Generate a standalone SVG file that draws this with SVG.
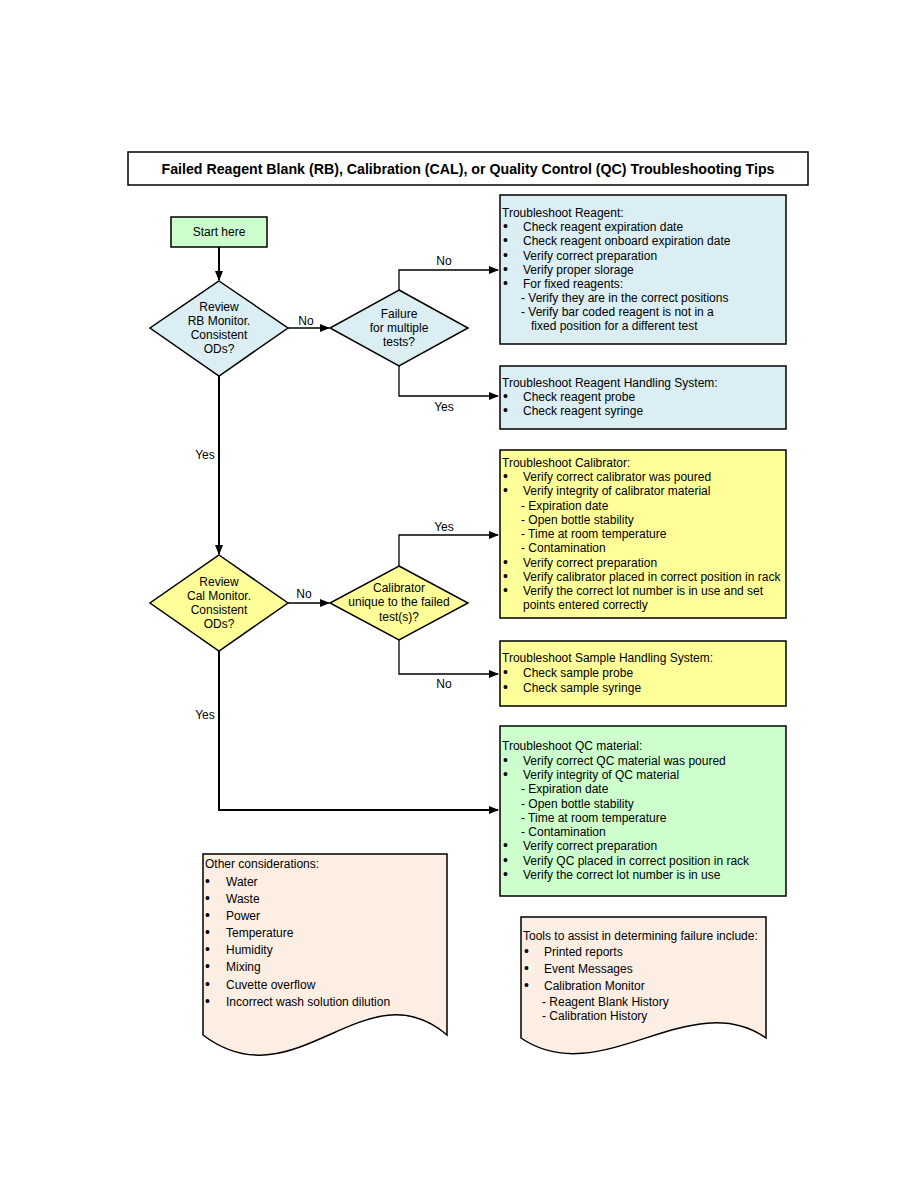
<svg xmlns="http://www.w3.org/2000/svg" width="918" height="1188" viewBox="0 0 918 1188">
<style>
text{font-family:"Liberation Sans",Arial,sans-serif;font-size:12px;fill:#000}
.c{text-anchor:middle}
.b{font-size:14px}
.box{stroke:#000;stroke-width:1.5}
.blue{fill:#daeef3}
.yel{fill:#ffff99}
.grn{fill:#ccffcc}
.pch{fill:#fdeee4}
.thick{fill:none;stroke:#000;stroke-width:2}
.thin{fill:none;stroke:#000;stroke-width:1.3}
</style>
<defs>
<marker id="ah" markerUnits="userSpaceOnUse" markerWidth="10" markerHeight="8" refX="9" refY="4" orient="auto">
<path d="M0,0 L10,4 L0,8 z" fill="#000"/>
</marker>
</defs>
<rect width="918" height="1188" fill="#fff"/>

<g id="title">
<rect x="128" y="152" width="680" height="33" fill="#fff" stroke="#000" stroke-width="1.5"/>
<text x="468" y="174" class="c" style="font-weight:bold;font-size:15px" textLength="613" lengthAdjust="spacingAndGlyphs">Failed Reagent Blank (RB), Calibration (CAL), or Quality Control (QC) Troubleshooting Tips</text>
</g>

<g id="connectors">
<path class="thick" d="M219,247 V280" marker-end="url(#ah)"/>
<path class="thin" d="M288,328 H329" marker-end="url(#ah)"/>
<path class="thin" d="M399,290 V270 H498" marker-end="url(#ah)"/>
<path class="thin" d="M399,366 V396 H498" marker-end="url(#ah)"/>
<path class="thick" d="M219,376 V554" marker-end="url(#ah)"/>
<path class="thin" d="M288,603 H329" marker-end="url(#ah)"/>
<path class="thin" d="M399,566 V535 H498" marker-end="url(#ah)"/>
<path class="thin" d="M399,640 V674 H498" marker-end="url(#ah)"/>
<path class="thick" d="M219,651 V810 H498" marker-end="url(#ah)"/>
<text x="306" y="325" class="c">No</text>
<text x="444" y="265" class="c">No</text>
<text x="444" y="411" class="c">Yes</text>
<text x="205" y="459" class="c">Yes</text>
<text x="304" y="598" class="c">No</text>
<text x="444" y="531" class="c">Yes</text>
<text x="444" y="688" class="c">No</text>
<text x="205" y="719" class="c">Yes</text>
</g>

<g id="start">
<rect x="171" y="217" width="96" height="30" class="box grn"/>
<text x="219" y="236" class="c">Start here</text>
</g>

<g id="rb-monitor">
<polygon points="219,281 288,328 219,376 150,328" class="box blue"/>
<text x="219" y="311" class="c">Review</text>
<text x="219" y="325" class="c">RB Monitor.</text>
<text x="219" y="339" class="c">Consistent</text>
<text x="219" y="353" class="c">ODs?</text>
</g>

<g id="failure-multiple">
<polygon points="399,290 468,328 399,366 330,328" class="box blue"/>
<text x="399" y="318" class="c">Failure</text>
<text x="399" y="332" class="c">for multiple</text>
<text x="399" y="346" class="c">tests?</text>
</g>

<g id="reagent">
<rect x="500" y="195" width="286" height="149" class="box blue"/>
<text x="502" y="217">Troubleshoot Reagent:</text>
<text x="503" y="231" class="b">•</text><text x="523" y="231">Check reagent expiration date</text>
<text x="503" y="245" class="b">•</text><text x="523" y="245">Check reagent onboard expiration date</text>
<text x="503" y="260" class="b">•</text><text x="523" y="260">Verify correct preparation</text>
<text x="503" y="274" class="b">•</text><text x="523" y="274">Verify proper slorage</text>
<text x="503" y="288" class="b">•</text><text x="523" y="288">For fixed reagents:</text>
<text x="521" y="302">-  Verify they are in the correct positions</text>
<text x="521" y="316">-  Verify bar coded reagent is not in a</text>
<text x="531" y="330">fixed position for a different test</text>
</g>

<g id="reagent-handling">
<rect x="500" y="366" width="286" height="63" class="box blue"/>
<text x="502" y="387">Troubleshoot Reagent Handling System:</text>
<text x="503" y="401" class="b">•</text><text x="523" y="401">Check reagent probe</text>
<text x="503" y="415" class="b">•</text><text x="523" y="415">Check reagent syringe</text>
</g>

<g id="cal-monitor">
<polygon points="219,555 288,603 219,651 150,603" class="box yel"/>
<text x="219" y="586" class="c">Review</text>
<text x="219" y="600" class="c">Cal Monitor.</text>
<text x="219" y="614" class="c">Consistent</text>
<text x="219" y="628" class="c">ODs?</text>
</g>

<g id="calibrator-unique">
<polygon points="399,566 468,603 399,640 330,603" class="box yel"/>
<text x="399" y="592" class="c">Calibrator</text>
<text x="399" y="606" class="c">unique to the failed</text>
<text x="399" y="621" class="c">test(s)?</text>
</g>

<g id="calibrator">
<rect x="500" y="450" width="286" height="168" class="box yel"/>
<text x="502" y="467">Troubleshoot Calibrator:</text>
<text x="503" y="481" class="b">•</text><text x="523" y="481">Verify correct calibrator was poured</text>
<text x="503" y="495" class="b">•</text><text x="523" y="495">Verify integrity of calibrator material</text>
<text x="521" y="510">-  Expiration date</text>
<text x="521" y="524">-  Open bottle stability</text>
<text x="521" y="538">-  Time at room temperature</text>
<text x="521" y="552">-  Contamination</text>
<text x="503" y="567" class="b">•</text><text x="523" y="567">Verify correct preparation</text>
<text x="503" y="581" class="b">•</text><text x="523" y="581">Verify calibrator placed in correct position in rack</text>
<text x="503" y="595" class="b">•</text><text x="523" y="595">Verify the correct lot number is in use and set</text>
<text x="523" y="609">points entered correctly</text>
</g>

<g id="sample-handling">
<rect x="500" y="641" width="286" height="65" class="box yel"/>
<text x="502" y="662">Troubleshoot Sample Handling System:</text>
<text x="503" y="677" class="b">•</text><text x="523" y="677">Check sample probe</text>
<text x="503" y="692" class="b">•</text><text x="523" y="692">Check sample syringe</text>
</g>

<g id="qc">
<rect x="500" y="726" width="286" height="170" class="box grn"/>
<text x="502" y="750">Troubleshoot QC material:</text>
<text x="503" y="765" class="b">•</text><text x="523" y="765">Verify correct QC material was poured</text>
<text x="503" y="779" class="b">•</text><text x="523" y="779">Verify integrity of QC material</text>
<text x="521" y="793">-  Expiration date</text>
<text x="521" y="808">-  Open bottle stability</text>
<text x="521" y="822">-  Time at room temperature</text>
<text x="521" y="836">-  Contamination</text>
<text x="503" y="850" class="b">•</text><text x="523" y="850">Verify correct preparation</text>
<text x="503" y="865" class="b">•</text><text x="523" y="865">Verify QC placed in correct position in rack</text>
<text x="503" y="879" class="b">•</text><text x="523" y="879">Verify the correct lot number is in use</text>
</g>

<g id="other-considerations">
<path d="M203,854 H447 V1035 C365,965 295,1105 203,1035 Z" class="box pch" stroke-width="1.2"/>
<text x="205" y="868">Other considerations:</text>
<text x="205" y="886" class="b">•</text><text x="226" y="886">Water</text>
<text x="205" y="903" class="b">•</text><text x="226" y="903">Waste</text>
<text x="205" y="920" class="b">•</text><text x="226" y="920">Power</text>
<text x="205" y="937" class="b">•</text><text x="226" y="937">Temperature</text>
<text x="205" y="954" class="b">•</text><text x="226" y="954">Humidity</text>
<text x="205" y="971" class="b">•</text><text x="226" y="971">Mixing</text>
<text x="205" y="989" class="b">•</text><text x="226" y="989">Cuvette overflow</text>
<text x="205" y="1006" class="b">•</text><text x="226" y="1006">Incorrect wash solution dilution</text>
</g>

<g id="tools">
<path d="M521,917 H766 V1038 C690,985 600,1092 521,1038 Z" class="box pch" stroke-width="1.2"/>
<text x="523" y="940">Tools to assist in determining failure include:</text>
<text x="524" y="956" class="b">•</text><text x="544" y="956">Printed reports</text>
<text x="524" y="973" class="b">•</text><text x="544" y="973">Event Messages</text>
<text x="524" y="990" class="b">•</text><text x="544" y="990">Calibration Monitor</text>
<text x="542" y="1006">-  Reagent Blank History</text>
<text x="542" y="1020">-  Calibration History</text>
</g>
</svg>
